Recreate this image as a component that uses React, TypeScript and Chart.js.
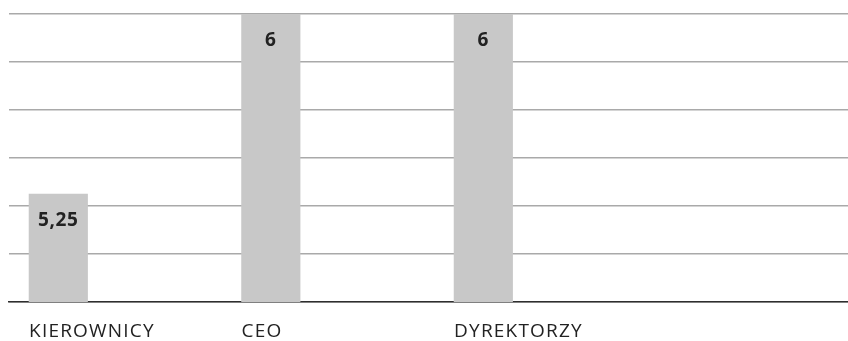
import React, { useEffect, useRef } from "react";
import { Chart, registerables } from "chart.js";

Chart.register(...registerables);

// Categories and their scores
const categories: string[] = ["KIEROWNICY", "CEO", "DYREKTORZY"];
const scores: number[] = [5.25, 6, 6];

// Value axis range
const yMin = 4.8;
const yMax = 6;
const yStep = 0.2;

const BAR_WIDTH = 58.5;
const FONT = "'Open Sans', 'DejaVu Sans', sans-serif";

const formatValue = (v: number) => String(v).replace(".", ",");

// Slightly tracked-out lettering for the axis labels
const letterSpacing = {
  id: "letterSpacing",
  beforeDraw(chart: any) {
    chart.ctx.letterSpacing = "1.2px";
  },
};

// Draws each bar's value inside the top of the bar
const valueLabels = {
  id: "valueLabels",
  afterDatasetsDraw(chart: any) {
    const { ctx } = chart;
    const meta = chart.getDatasetMeta(0);
    ctx.save();
    ctx.letterSpacing = "0.6px";
    ctx.font = `bold 19px ${FONT}`;
    ctx.fillStyle = "#222222";
    ctx.textAlign = "center";
    ctx.textBaseline = "middle";
    meta.data.forEach((bar: any, i: number) => {
      ctx.fillText(formatValue(scores[i]), bar.x, bar.y + 27);
    });
    ctx.restore();
  },
};

export default function App() {
  const canvasRef = useRef<HTMLCanvasElement | null>(null);

  useEffect(() => {
    if (!canvasRef.current) return;
    const chart = new Chart(canvasRef.current, {
      type: "bar",
      data: {
        datasets: [
          {
            data: scores.map((v, i) => ({ x: i, y: v })),
            backgroundColor: "#c8c8c8",
            borderWidth: 0,
            barThickness: BAR_WIDTH,
          },
        ],
      },
      options: {
        animation: false,
        responsive: true,
        maintainAspectRatio: false,
        layout: { padding: { left: 9, right: 0, top: 14, bottom: 0 } },
        plugins: {
          legend: { display: false },
          tooltip: { enabled: false },
        },
        scales: {
          x: {
            type: "linear",
            offset: false,
            min: -0.232,
            max: 3.716,
            grid: { display: false, drawTicks: false },
            border: { display: true, color: "#2e2e2e", width: 1.5 },
            afterBuildTicks: (scale: any) => {
              scale.ticks = categories.map((_, i) => ({ value: i }));
            },
            afterFit: (scale: any) => {
              scale.height = 39;
            },
            ticks: {
              autoSkip: false,
              maxRotation: 0,
              align: "start",
              labelOffset: -BAR_WIDTH / 2,
              padding: 18,
              color: "#222222",
              font: { family: FONT, size: 19 },
              callback: (v: any) => categories[v as number] ?? "",
            },
          },
          y: {
            min: yMin,
            max: yMax,
            ticks: { display: false, stepSize: yStep },
            grid: { color: "#a9a9a9", lineWidth: 1.5, drawTicks: false },
            border: { display: false },
            afterFit: (scale: any) => {
              scale.width = 0;
            },
          },
        },
      },
      plugins: [letterSpacing, valueLabels],
    });
    return () => chart.destroy();
  }, []);

  return (
    <div style={{ position: "fixed", left: 0, top: 0, width: 848, height: 341, background: "#ffffff" }}>
      <canvas ref={canvasRef} />
    </div>
  );
}
